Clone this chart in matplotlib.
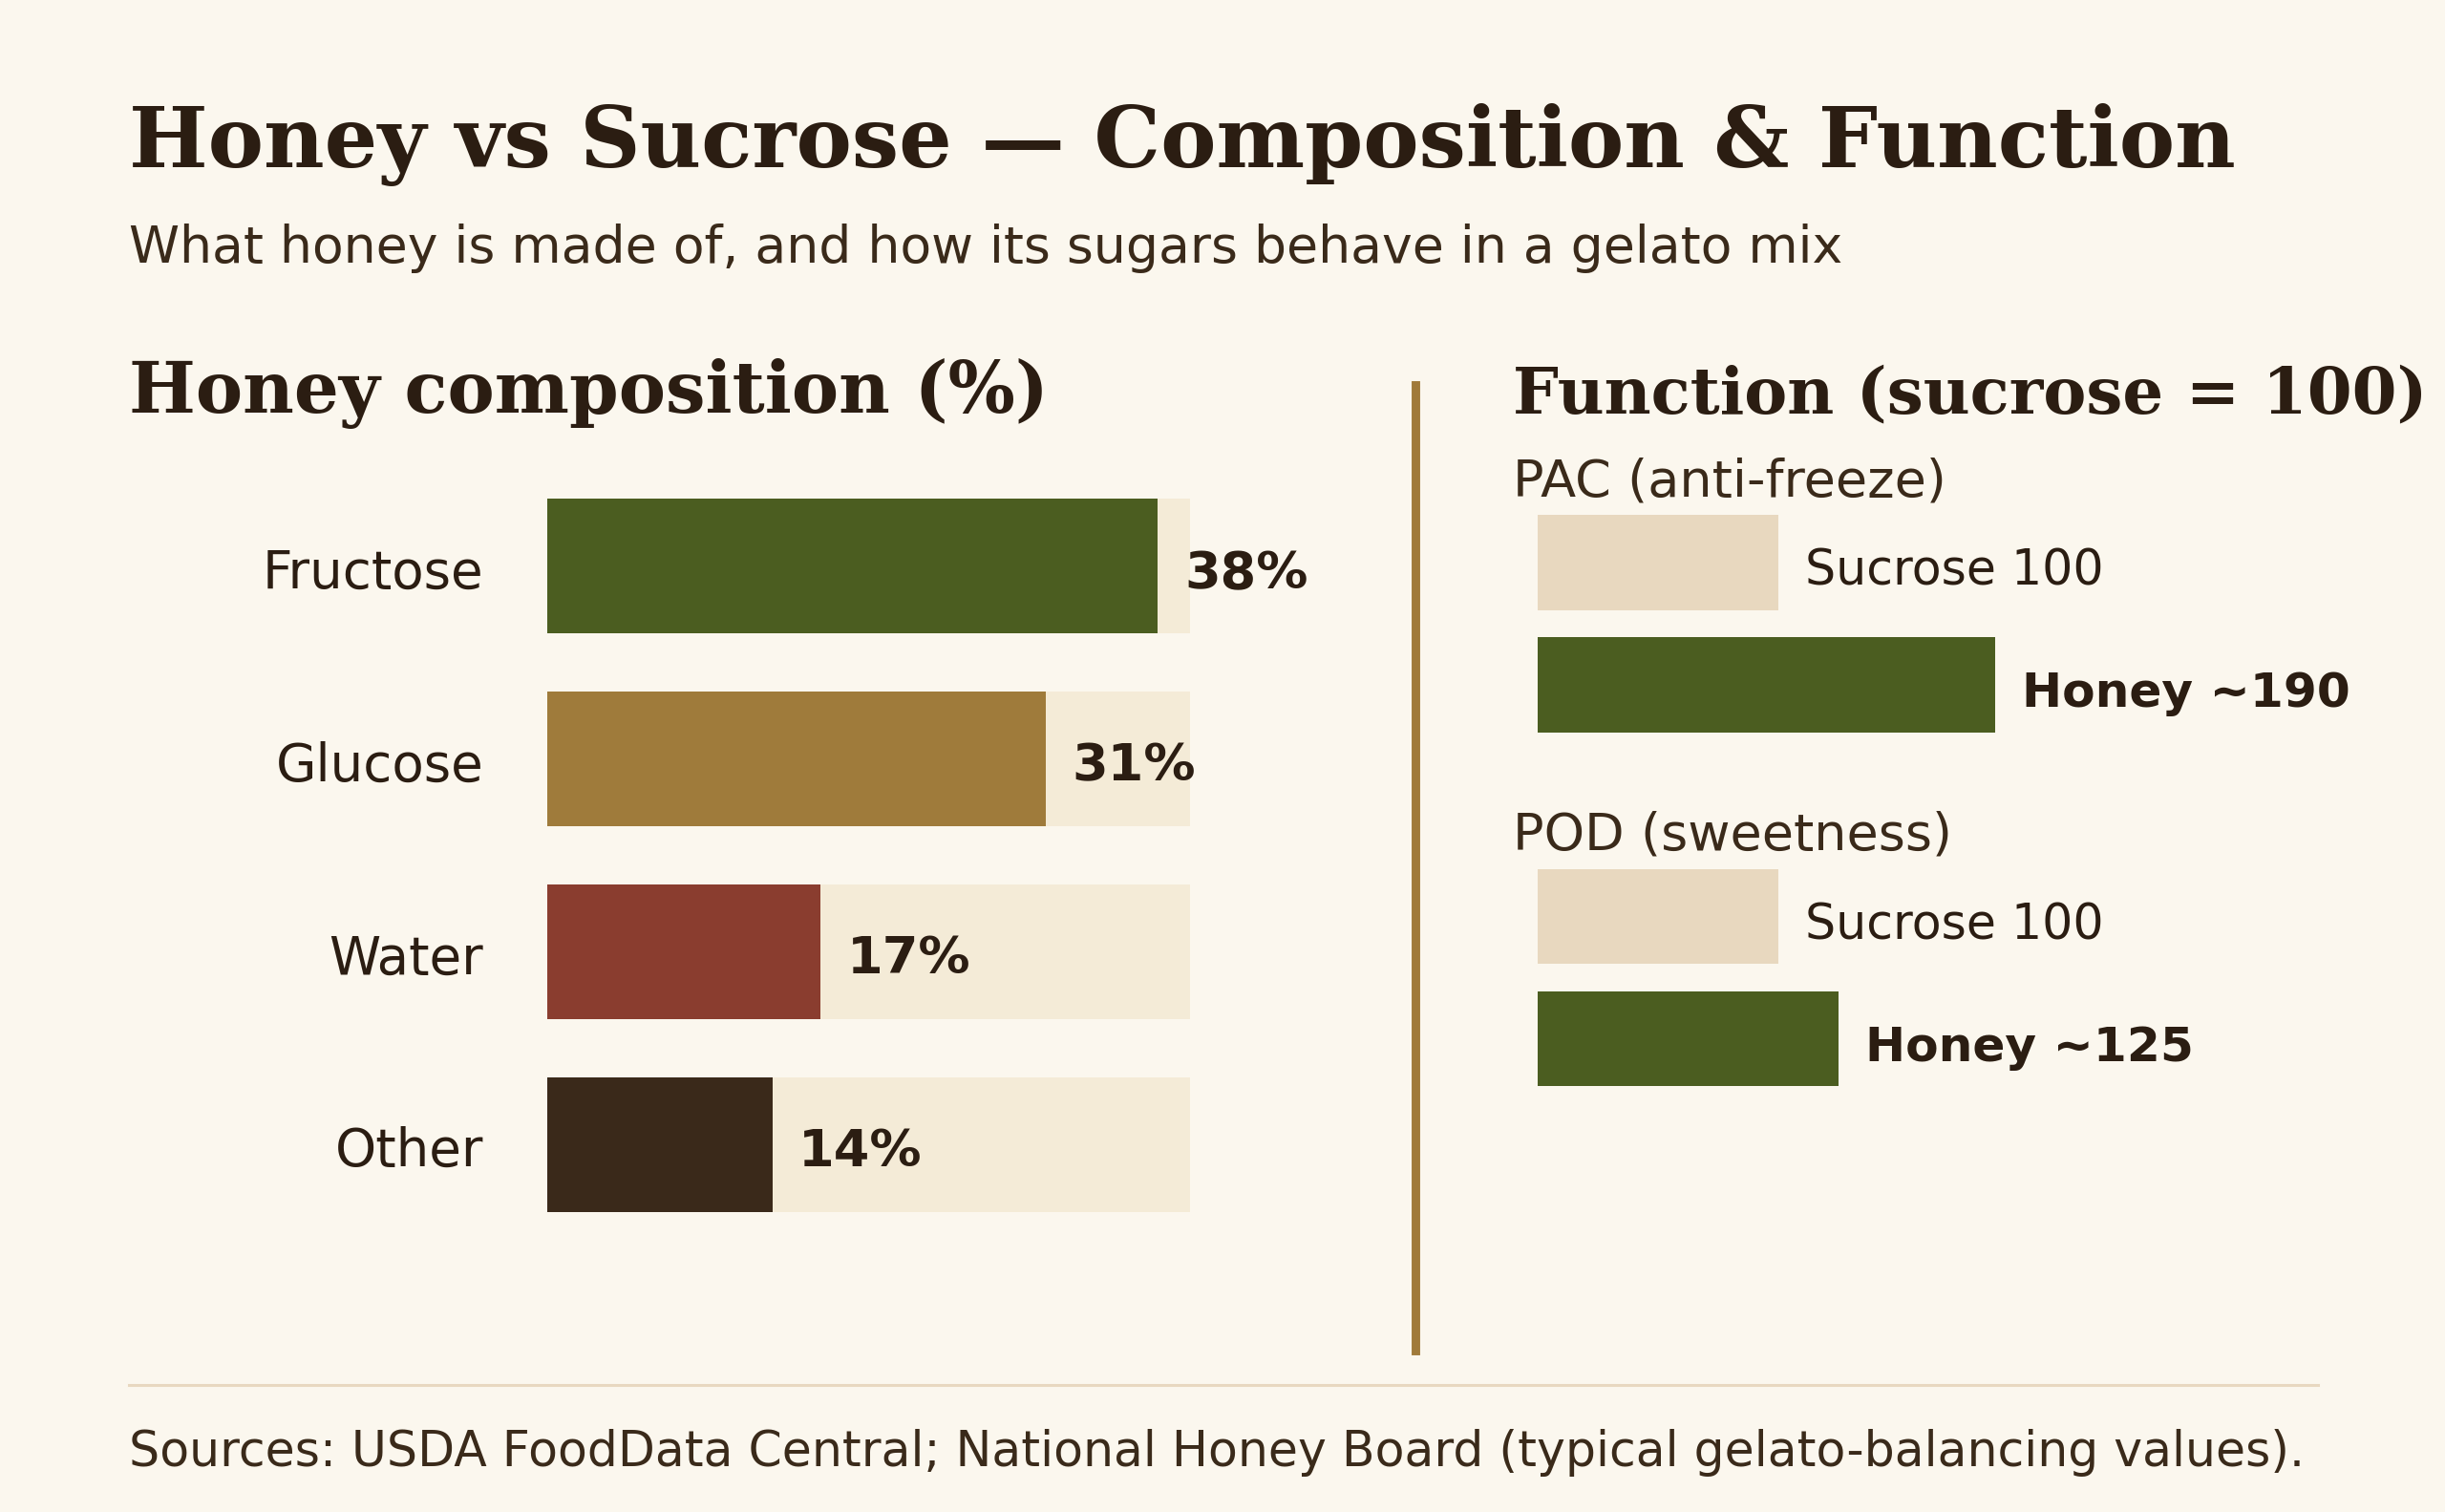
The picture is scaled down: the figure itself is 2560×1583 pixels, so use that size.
import matplotlib.pyplot as plt

# data
components = ["Fructose", "Glucose", "Water", "Other"]
shares = [38, 31, 17, 14]
comp_colors = ["#4B5D20", "#9F7B3B", "#8A3D2F", "#3A291A"]

metrics = ["PAC (anti-freeze)", "POD (sweetness)"]
sucrose_vals = [100, 100]
honey_vals = [190, 125]

BG = "#FBF7EE"
INK = "#2B1D12"
TRACK = "#F4EBD7"
SUCROSE_C = "#E8D8BF"
GREEN = "#4B5D20"
GOLD = "#A07A3A"

W, H = 2560, 1583
DPI = 200
fig = plt.figure(figsize=(W / DPI, H / DPI), dpi=DPI, facecolor=BG)


def fy(px):
    return 1 - px / H


def px_axes(x0, y0, x1, y1):
    return fig.add_axes([x0 / W, 1 - y1 / H, (x1 - x0) / W, (y1 - y0) / H])


# titles
fig.text(135 / W, fy(175), "Honey vs Sucrose \u2014 Composition & Function",
         family="DejaVu Serif", weight="bold", size=31.5, color=INK, va="baseline")
fig.text(135 / W, fy(275), "What honey is made of, and how its sugars behave in a gelato mix",
         size=19.3, color="#3A2A1A", va="baseline")
fig.text(135 / W, fy(432), "Honey composition (%)",
         family="DejaVu Serif", weight="bold", size=26.6, color=INK, va="baseline")
fig.text(1584 / W, fy(432), "Function (sucrose = 100)",
         family="DejaVu Serif", weight="bold", size=24.3, color=INK, va="baseline")

# left panel: composition bars
ax = px_axes(573, 492, 1246, 1299)
ax.set_facecolor("none")
pos = list(range(len(components)))
ax.barh(pos, [40] * len(pos), height=0.7, color=TRACK)
ax.barh(pos, shares, height=0.7, color=comp_colors)
ax.set_xlim(0, 40)
ax.set_ylim(len(pos) - 0.5, -0.5)
for i, (name, v) in enumerate(zip(components, shares)):
    ax.annotate(name, (0, i), xytext=(-24, -8.3), textcoords="offset points",
                ha="right", va="baseline", size=19.7, color=INK)
    ax.annotate(f"{v}%", (v, i), xytext=(10, -8.3), textcoords="offset points",
                ha="left", va="baseline", size=19.5, weight="bold", color=INK)
ax.axis("off")

# divider
fig.add_artist(plt.Line2D([1482 / W, 1482 / W], [fy(403), fy(1414)],
                          color=GOLD, lw=3.2))

# right panel: function bars
ax2 = px_axes(1610, 397, 2540, 1165)
ax2.set_facecolor("none")
ax2.set_xlim(0, 930 / 2.52)
ax2.set_ylim(4.5, -1.5)
group_gap = 2.895
for g, (m, s, h) in enumerate(zip(metrics, sucrose_vals, honey_vals)):
    y0 = g * group_gap
    ax2.text(-10.3, y0 - 70 / 128, m, ha="left", va="baseline", size=19.5, color="#3A2A1A")
    ax2.barh(y0, s, height=0.78, color=SUCROSE_C)
    ax2.barh(y0 + 1, h, height=0.78, color=GREEN)
    ax2.annotate(f"Sucrose {s}", (s, y0), xytext=(10, -8.6), textcoords="offset points",
                 ha="left", va="baseline", size=18.2, color=INK)
    ax2.annotate(f"Honey ~{h}", (h, y0 + 1), xytext=(10, -8.3), textcoords="offset points",
                 ha="left", va="baseline", size=18.1, weight="bold", color=INK)
ax2.axis("off")

# footer
fig.add_artist(plt.Line2D([135 / W, 2427 / W], [fy(1450), fy(1450)],
                          color="#E8D8C0", lw=1.1))
fig.text(135 / W, fy(1535), "Sources: USDA FoodData Central; National Honey Board (typical gelato-balancing values).",
         size=18.2, color="#3A2A1A", va="baseline")

fig.savefig("out.png", dpi=DPI, facecolor=BG)
